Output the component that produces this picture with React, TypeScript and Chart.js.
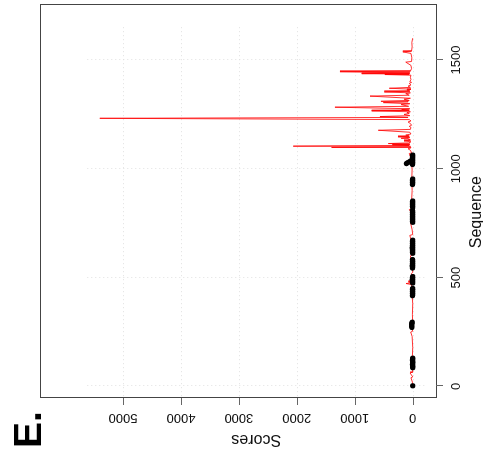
import React, { useEffect, useRef } from "react";
import { Chart, registerables } from "chart.js";

Chart.register(...registerables);

// ---- data ----
const seqTicks = [0, 500, 1000, 1500];
const scoreTicks = [0, 1000, 2000, 3000, 4000, 5000];

const redSeq = [
  1, 20, 40, 44, 62, 66, 100, 140, 180, 230, 250, 254, 280, 284, 330, 380, 420,
  468, 473, 476, 480, 484, 520, 524, 560, 600, 604, 650, 694, 698, 720, 755, 759,
  790, 813, 817, 850, 900, 960, 1000, 1020, 1050, 1070, 1074, 1085, 1092, 1096,
  1098, 1101, 1104, 1107, 1110, 1113, 1116, 1119, 1124, 1128, 1132, 1137, 1140,
  1143, 1147, 1150, 1155, 1160, 1168, 1177, 1181, 1190, 1195, 1200, 1208, 1215,
  1220, 1226, 1232, 1236, 1240, 1244, 1250, 1254, 1258, 1262, 1266, 1269, 1272,
  1276, 1283, 1287, 1295, 1299, 1304, 1307, 1310, 1314, 1320, 1324, 1334, 1338,
  1345, 1349, 1353, 1357, 1362, 1366, 1370, 1374, 1380, 1385, 1392, 1397, 1400,
  1410, 1420, 1430, 1433, 1435, 1437, 1440, 1446, 1449, 1460, 1475, 1490, 1493,
  1510, 1530, 1537, 1541, 1560, 1580, 1600,
];
const redScore = [
  0, 5, 30, 0, 45, 0, 10, 5, 0, 10, 35, 0, 30, 0, 5, 0, 10,
  20, 115, 10, 75, 0, 20, 0, 10, 40, 0, 5, 50, 0, 10, 40, 0,
  10, 58, 0, 20, 10, 15, 10, 20, 30, 60, 20, 40, 80, 30,
  1400, 40, 2062, 60, 350, 50, 421, 70, 30, 150, 40, 80, 200,
  50, 254, 60, 120, 30, 50, 594, 40, 30, 60, 20, 40, 80,
  30, 60, 5400, 80, 565, 50, 150, 60, 100, 40, 708, 60, 190,
  50, 1342, 70, 200, 50, 507, 80, 548, 60, 150, 40, 737, 60,
  120, 40, 490, 50, 100, 30, 404, 40, 80, 30, 60, 20, 50,
  30, 40, 30, 480, 60, 880, 50, 1255, 40, 20, 30, 120, 20,
  15, 30, 170, 20, 10, 15, 0,
];

const blackSeq = [
  3,
  86, 91, 96, 101, 106, 111, 116, 121, 126, 130,
  271, 276, 281, 286, 291, 295,
  417, 422, 427, 432, 437, 442, 447, 450,
  475, 480, 485, 490, 495, 500, 505,
  544, 549, 554, 559, 564, 569, 574, 579, 583,
  612, 617, 622, 627, 632, 637, 642, 647, 652, 657, 662, 667, 672,
  754, 759, 764, 769, 774, 779, 784, 789, 794, 799, 804, 808,
  823, 828, 833, 838, 843, 848, 852,
  928, 933, 938, 943, 948, 953,
  1020, 1025, 1030, 1035, 1040, 1045, 1050, 1055, 1060, 1063, 1024, 1028, 1032, 1036,
];
const blackScore = [
  0,
  0, 0, 0, 5, 0, 0, 0, 5, 0, 0,
  15, 20, 15, 20, 15, 10,
  5, 0, 5, 0, 5, 0, 5, 0,
  0, 5, 0, 10, 0, 5, 0,
  5, 0, 10, 0, 5, 0, 5, 0, 5,
  0, 5, 0, 5, 0, 10, 0, 5, 0, 5, 0, 5, 0,
  0, 5, 0, 5, 0, 5, 0, 5, 0, 5, 0, 5,
  0, 5, 0, 5, 0, 5, 0,
  5, 0, 5, 0, 5, 0,
  5, 0, 5, 0, 5, 0, 5, 0, 5, 0, 110, 90, 60, 35,
];

// axis ranges
const SEQ_MIN = -53;
const SEQ_MAX = 1757;
const SCORE_MIN = -402;
const SCORE_MAX = 6432;
// plotting region (R "usr") used by grid and titles
const USR_SEQ = [-63, 1664];
const USR_SCORE = [-216, 5616];

const FONT = '"Liberation Sans", Arial, Helvetica, sans-serif';

const overlay = {
  id: "rOverlay",
  beforeDatasetsDraw(chart: any) {
    const { ctx, scales } = chart;
    const x = scales.x;
    const y = scales.y;
    ctx.save();
    ctx.strokeStyle = "#e0e0e0";
    ctx.lineWidth = 1;
    ctx.setLineDash([1, 3]);
    ctx.beginPath();
    for (const s of seqTicks) {
      const px = Math.round(x.getPixelForValue(s)) + 0.5;
      ctx.moveTo(px, y.getPixelForValue(USR_SCORE[1]));
      ctx.lineTo(px, y.getPixelForValue(USR_SCORE[0]));
    }
    for (const v of scoreTicks) {
      const py = Math.round(y.getPixelForValue(v)) + 0.5;
      ctx.moveTo(x.getPixelForValue(USR_SEQ[0]), py);
      ctx.lineTo(x.getPixelForValue(USR_SEQ[1]), py);
    }
    ctx.stroke();
    ctx.restore();
  },
  afterDatasetsDraw(chart: any) {
    const { ctx, scales, chartArea } = chart;
    const x = scales.x;
    const y = scales.y;
    ctx.save();
    // frame
    ctx.strokeStyle = "#444";
    ctx.lineWidth = 1;
    ctx.strokeRect(
      chartArea.left + 0.5,
      chartArea.top + 0.5,
      chartArea.right - chartArea.left - 1,
      chartArea.bottom - chartArea.top
    );
    // tick marks
    ctx.strokeStyle = "#666";
    ctx.beginPath();
    for (const s of seqTicks) {
      const px = Math.round(x.getPixelForValue(s)) + 0.5;
      ctx.moveTo(px, chartArea.bottom);
      ctx.lineTo(px, chartArea.bottom + 7);
    }
    for (const v of scoreTicks) {
      const py = Math.round(y.getPixelForValue(v)) + 0.5;
      ctx.moveTo(chartArea.left, py);
      ctx.lineTo(chartArea.left - 7, py);
    }
    ctx.stroke();
    // tick labels
    ctx.fillStyle = "#111";
    ctx.font = `13px ${FONT}`;
    ctx.textAlign = "center";
    ctx.textBaseline = "alphabetic";
    for (const s of seqTicks) {
      ctx.fillText(String(s), x.getPixelForValue(s), chartArea.bottom + 24);
    }
    for (const v of scoreTicks) {
      ctx.save();
      ctx.translate(chartArea.left - 16, y.getPixelForValue(v));
      ctx.rotate(-Math.PI / 2);
      ctx.fillText(String(v), 0, 0);
      ctx.restore();
    }
    // axis titles
    ctx.font = `16px ${FONT}`;
    ctx.fillText(
      "Sequence",
      x.getPixelForValue((USR_SEQ[0] + USR_SEQ[1]) / 2),
      chartArea.bottom + 45
    );
    ctx.save();
    ctx.translate(21.5, y.getPixelForValue((USR_SCORE[0] + USR_SCORE[1]) / 2));
    ctx.rotate(-Math.PI / 2);
    ctx.fillText("Scores", 0, 0);
    ctx.restore();
    // panel label
    ctx.font = `bold 39px ${FONT}`;
    ctx.textAlign = "left";
    ctx.fillStyle = "#000";
    ctx.fillText("E.", 9, 40.7);
    ctx.restore();
  },
};

export default function App() {
  const ref = useRef<HTMLCanvasElement>(null);
  useEffect(() => {
    if (!ref.current) return;
    const chart = new Chart(ref.current, {
      type: "scatter",
      data: {
        datasets: [
          {
            label: "hits",
            data: blackSeq.map((s, i) => ({ x: s, y: blackScore[i] })),
            pointRadius: 2.6,
            pointBackgroundColor: "#000",
            pointBorderWidth: 0,
            showLine: false,
          },
          {
            label: "scores",
            data: redSeq.map((s, i) => ({ x: s, y: redScore[i] })),
            showLine: true,
            borderColor: "#ff0000",
            borderWidth: 0.8,
            borderJoinStyle: "round",
            pointRadius: 0,
            tension: 0,
          },
        ],
      },
      options: {
        animation: false,
        responsive: false,
        devicePixelRatio: 1,
        layout: { padding: { left: 59, top: 40, right: 2, bottom: 47 } },
        plugins: { legend: { display: false }, tooltip: { enabled: false } },
        events: [],
        scales: {
          x: { type: "linear", display: false, min: SEQ_MIN, max: SEQ_MAX },
          y: { type: "linear", display: false, min: SCORE_MIN, max: SCORE_MAX },
        },
      },
      plugins: [overlay],
    });
    return () => chart.destroy();
  }, []);

  return (
    <div
      style={{
        position: "fixed",
        left: 0,
        top: 0,
        width: 457,
        height: 483,
        background: "#fff",
        transformOrigin: "0 0",
        transform: "translateY(457px) rotate(-90deg)",
      }}
    >
      <canvas
        ref={ref}
        width={457}
        height={483}
        style={{ display: "block", width: 457, height: 483 }}
      />
    </div>
  );
}
